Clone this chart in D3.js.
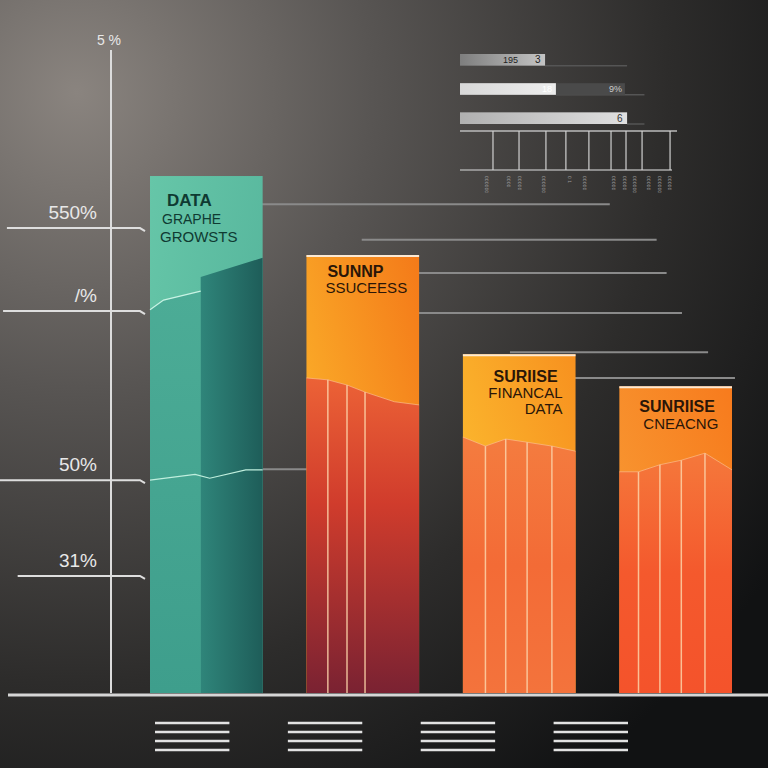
<!DOCTYPE html>
<html><head><meta charset="utf-8">
<script src="https://cdn.jsdelivr.net/npm/d3@7"></script>
<style>body{margin:0;background:#222}svg{display:block}</style>
</head><body>
<svg id="chart" width="768" height="768"></svg>
<script>
// ---------- DATA ----------
const categories = ["DATA GRAPHE GROWSTS", "SUNNP SSUCEESS", "SURIISE FINANCAL DATA", "SUNRIISE CNEACNG"];
const barValues = [80.4, 68.1, 52.7, 47.7];
const barTitleLines = [["DATA", "GRAPHE", "GROWSTS"], ["SUNNP", "SSUCEESS"], ["SURIISE", "FINANCAL", "DATA"], ["SUNRIISE", "CNEACNG"]];
// colour split profile inside each bar: [fraction across bar, value]
const splitProfiles = [
  [[0, 59.6], [0.12, 61.1], [0.45, 62.5]],
  [[0, 49.0], [0.19, 48.7], [0.36, 47.9], [0.52, 46.8], [0.78, 45.3], [1, 44.8]],
  [[0, 39.8], [0.2, 38.4], [0.38, 39.5], [0.57, 39.0], [0.79, 38.4], [1, 37.6]],
  [[0, 34.4], [0.17, 34.4], [0.36, 35.5], [0.55, 36.2], [0.76, 37.3], [1, 34.7]]
];
const barDividers = [[], [0.19, 0.36, 0.52], [0.2, 0.38, 0.57, 0.79], [0.17, 0.36, 0.55, 0.76]];
const tealDarkProfile = [[0.45, 64.7], [1, 67.7]];
const tealLowLine = [[0, 33.1], [0.4, 34.0], [0.53, 33.4], [0.85, 34.7], [1, 34.7]];
const axisTopLabel = "5 %";
const axisTickValues = [72.3, 59.4, 33.1, 18.2];
const axisTickLabels = ["550%", "/%", "50%", "31%"];
const axisTickStarts = [0.9, 0.4, 0, 2.3];          // % of width
const gridValues = [76.0, 70.5, 65.3, 59.1, 53.0, 49.0, 34.8];
const gridStarts = [30, 47.1, 50, 50, 66.4, 70, 30];  // % of width
const gridEnds = [79.4, 85.5, 86.8, 88.8, 92.2, 95.7, 41.1];
const topBarValues = [39.2, 44.2, 77.0];
const topBarExtra = [0, 76.0, 0];
const topBarLabels = [["195", "3"], ["18", "9%"], ["6"]];
const miniTickValues = [15.2, 27.2, 39.6, 48.8, 59.4, 69.6, 76.5, 83.9, 96.8];
const miniLabelValues = [11.5, 21.7, 26.7, 37.8, 49.8, 56.7, 70, 75, 79.7, 86.2, 91.2, 95.8];
const miniLabels = ["000000", "0000", "00000", "000000", "0 1", "00000", "00000", "00000", "000000", "00000", "000000", "00000"];
const legendLineCount = 4;

// ---------- SETUP ----------
const W = 768, H = 768;
const svg = d3.select("#chart");
const defs = svg.append("defs");
const y = d3.scaleLinear().domain([0, 100]).range([693, 50]);
const x = d3.scaleBand().domain(categories).range([150, 732]).paddingInner(0.28).paddingOuter(0);
const xp = d3.scaleLinear().domain([0, 100]).range([0, W]);
const xTop = d3.scaleLinear().domain([0, 100]).range([460, 677]);
const xLeg = d3.scaleBand().domain(categories).range([155, 628]).paddingInner(0.44);

function lin(id, x1, y1, x2, y2, stops) {
  const g = defs.append("linearGradient").attr("id", id)
    .attr("x1", x1).attr("y1", y1).attr("x2", x2).attr("y2", y2);
  stops.forEach(s => g.append("stop").attr("offset", s[0]).attr("stop-color", s[1]));
}
const bg = defs.append("radialGradient").attr("id", "bg").attr("cx", "10%").attr("cy", "12%").attr("r", "110%");
[[0, "#8a847f"], [0.35, "#585553"], [0.7, "#2d2c2b"], [1, "#111213"]].forEach(s => bg.append("stop").attr("offset", s[0]).attr("stop-color", s[1]));

lin("t_up", 0, 0, 1, 1, [[0, "#66c6a8"], [1, "#4fae97"]]);
lin("t_low", 0, 0, 0, 1, [[0, "#4cac96"], [1, "#3e9e8c"]]);
lin("t_dark", 0, 0, 1, 0, [[0, "#2f857a"], [1, "#1e5d59"]]);
lin("o2_up", 0, 1, 1, 0, [[0, "#fdc12f"], [1, "#f47a19"]]);
lin("o2_low", 0, 0, 0, 1, [[0, "#ec6236"], [0.4, "#d03c2c"], [1, "#7a2232"]]);
lin("o3_up", 0, 1, 1, 0, [[0, "#fdc834"], [1, "#f7911f"]]);
lin("o3_low", 0, 0, 0, 1, [[0, "#f47c3f"], [0.5, "#f36b36"], [1, "#f3733c"]]);
lin("o4_up", 0, 1, 1, 0, [[0, "#f8a038"], [1, "#f77b1d"]]);
lin("o4_low", 0, 0, 0, 1, [[0, "#f5783b"], [0.5, "#f4592d"], [1, "#f4532b"]]);
const upFills = ["url(#t_up)", "url(#o2_up)", "url(#o3_up)", "url(#o4_up)"];
const lowFills = ["url(#t_low)", "url(#o2_low)", "url(#o3_low)", "url(#o4_low)"];

svg.append("rect").attr("width", W).attr("height", H).attr("fill", "url(#bg)");

// ---------- TOP-RIGHT WIDGET ----------
lin("tb1", 0, 0, 1, 0, [[0, "#7e7e7e"], [1, "#c4c4c4"]]);
lin("tb2", 0, 0, 1, 0, [[0, "#d8d8d8"], [1, "#ededed"]]);
lin("tb3", 0, 0, 1, 0, [[0, "#b0b0b0"], [1, "#e0e0e0"]]);
const topBarFills = ["url(#tb1)", "url(#tb2)", "url(#tb3)"];
const topBarY = d3.scaleBand().domain(d3.range(3)).range([54, 124]).paddingInner(0.6);
const tw = svg.append("g");
topBarValues.forEach((v, i) => {
  const yy = topBarY(i), h = topBarY.bandwidth();
  tw.append("line").attr("x1", xTop(v)).attr("x2", xTop(i === 0 ? 77 : 85)).attr("y1", yy + h).attr("y2", yy + h)
    .attr("stroke", "#555").attr("stroke-width", 1.5);
  if (topBarExtra[i] > 0) {
    tw.append("rect").attr("x", xTop(v)).attr("y", yy).attr("width", xTop(topBarExtra[i]) - xTop(v)).attr("height", h).attr("fill", "#4a4a4a");
  }
  tw.append("rect").attr("x", xTop(0)).attr("y", yy).attr("width", xTop(v) - xTop(0)).attr("height", h).attr("fill", topBarFills[i]);
  const labs = topBarLabels[i];
  if (i === 0) {
    tw.append("text").attr("x", xTop(v) - 42).attr("y", yy + h - 3).text(labs[0]).attr("fill", "#222").attr("font-size", 9);
    tw.append("text").attr("x", xTop(v) - 10).attr("y", yy + h - 3).text(labs[1]).attr("fill", "#222").attr("font-size", 10);
  } else if (i === 1) {
    tw.append("text").attr("x", xTop(v) - 14).attr("y", yy + h - 3).text(labs[0]).attr("fill", "#fff").attr("font-size", 9);
    tw.append("text").attr("x", xTop(topBarExtra[i]) - 16).attr("y", yy + h - 3).text(labs[1]).attr("fill", "#ccc").attr("font-size", 9);
  } else {
    tw.append("text").attr("x", xTop(v) - 10).attr("y", yy + h - 2).text(labs[0]).attr("fill", "#333").attr("font-size", 10);
  }
});
tw.selectAll("text").attr("font-family", "Liberation Sans, Arial, sans-serif");
// mini chart
tw.append("line").attr("x1", xTop(0)).attr("x2", xTop(100)).attr("y1", 131).attr("y2", 131).attr("stroke", "#bbb").attr("stroke-width", 1.5);
tw.append("line").attr("x1", xTop(0)).attr("x2", xTop(97.7)).attr("y1", 170).attr("y2", 170).attr("stroke", "#aaa").attr("stroke-width", 1.5);
tw.selectAll(".mt").data(miniTickValues).join("line")
  .attr("x1", d => xTop(d)).attr("x2", d => xTop(d)).attr("y1", 131).attr("y2", 170)
  .attr("stroke", "#d0d0d0").attr("stroke-width", 1.2);
tw.selectAll(".ml").data(miniLabelValues).join("text")
  .attr("transform", d => `translate(${xTop(d)},176) rotate(90)`)
  .text((d, i) => miniLabels[i]).attr("fill", "#9a9a9a").attr("font-size", 4.5)
  .attr("font-family", "DejaVu Sans, sans-serif");

// ---------- GRID LINES ----------
svg.append("g").selectAll("line").data(gridValues).join("line")
  .attr("x1", (d, i) => xp(gridStarts[i])).attr("x2", (d, i) => xp(gridEnds[i]))
  .attr("y1", d => y(d)).attr("y2", d => y(d))
  .attr("stroke", "#8a8a8a").attr("stroke-width", 2);

// ---------- BARS ----------
const bars = svg.append("g");
categories.forEach((c, i) => {
  const x0 = x(c), bw = x.bandwidth();
  const fx = d3.scaleLinear().domain([0, 1]).range([x0, x0 + bw]);
  const g = bars.append("g");
  g.append("rect").attr("x", x0).attr("y", y(barValues[i])).attr("width", bw).attr("height", y(0) - y(barValues[i]))
    .attr("fill", upFills[i]);
  const prof = splitProfiles[i];
  const area = d3.area().x(d => fx(d[0])).y0(y(0)).y1(d => y(d[1]));
  g.append("path").datum(prof).attr("d", area).attr("fill", lowFills[i]);
  if (i === 0) {
    g.append("path").datum(tealDarkProfile).attr("d", area).attr("fill", "url(#t_dark)");
    g.append("path").datum(prof).attr("d", d3.line().x(d => fx(d[0])).y(d => y(d[1])))
      .attr("fill", "none").attr("stroke", "#c8f3e4").attr("stroke-width", 1.2);
    g.append("path").datum(tealLowLine).attr("d", d3.line().x(d => fx(d[0])).y(d => y(d[1])))
      .attr("fill", "none").attr("stroke", "#bfeedd").attr("stroke-width", 1.2);
  } else {
    const pInterp = d3.scaleLinear().domain(prof.map(d => d[0])).range(prof.map(d => d[1]));
    g.selectAll(".dv").data(barDividers[i]).join("line")
      .attr("x1", d => fx(d)).attr("x2", d => fx(d))
      .attr("y1", d => y(pInterp(d))).attr("y2", y(0))
      .attr("stroke", "#fbd2a8").attr("stroke-opacity", 0.85).attr("stroke-width", 1.5);
    g.append("line").attr("x1", x0).attr("x2", x0 + bw).attr("y1", y(barValues[i]) + 1).attr("y2", y(barValues[i]) + 1)
      .attr("stroke", "#fbe9d4").attr("stroke-width", 2);
    g.append("path").datum(prof).attr("d", d3.line().x(d => fx(d[0])).y(d => y(d[1])))
      .attr("fill", "none").attr("stroke", "#fbc79a").attr("stroke-opacity", 0.6).attr("stroke-width", 1);
  }
});

// bar titles
const titleFmt = [
  {anchor: "start", xs: [17, 12, 10], dy: [30, 48, 66], sizes: [17, 14, 15], col: "#0f3a32"},
  {anchor: "start", xs: [21, 19], dy: [22, 38], sizes: [16, 15], col: "#2a1608"},
  {anchor: "end", xs: [-18, -13, -13], dy: [28, 44, 60], sizes: [16, 15, 15], col: "#2a1608"},
  {anchor: "start", xs: [20, 24], dy: [26, 43], sizes: [16, 15], col: "#2a1608"}
];
categories.forEach((c, i) => {
  const f = titleFmt[i];
  const baseX = f.anchor === "end" ? x(c) + x.bandwidth() : x(c);
  barTitleLines[i].forEach((t, j) => {
    bars.append("text").attr("x", baseX + f.xs[j]).attr("y", y(barValues[i]) + f.dy[j])
      .attr("text-anchor", f.anchor).text(t)
      .attr("font-family", "Liberation Sans, Arial, sans-serif")
      .attr("font-weight", j === 0 ? "bold" : "normal")
      .attr("font-size", f.sizes[j]).attr("fill", f.col);
  });
});

// ---------- AXIS ----------
const ax = svg.append("g");
ax.append("line").attr("x1", 111).attr("x2", 111).attr("y1", y(100)).attr("y2", y(0))
  .attr("stroke", "#dcdcdc").attr("stroke-width", 2);
ax.append("text").attr("x", 109).attr("y", y(100) - 5).attr("text-anchor", "middle").text(axisTopLabel)
  .attr("fill", "#e8e8e8").attr("font-size", 14).attr("font-family", "Liberation Sans, Arial, sans-serif");
axisTickValues.forEach((v, i) => {
  const yy = y(v);
  ax.append("path").attr("d", `M${xp(axisTickStarts[i])},${yy}L${x(categories[0]) - 10},${yy}l5,3`)
    .attr("fill", "none").attr("stroke", "#dedede").attr("stroke-width", 2);
  ax.append("text").attr("x", 97).attr("y", yy - 9).attr("text-anchor", "end").text(axisTickLabels[i])
    .attr("fill", "#e8e8e8").attr("font-size", 19).attr("font-family", "Liberation Sans, Arial, sans-serif");
});

// baseline
svg.append("line").attr("x1", 8).attr("x2", W).attr("y1", y(0) + 2).attr("y2", y(0) + 2)
  .attr("stroke", "#d6d6d6").attr("stroke-width", 3);

// ---------- LEGEND PLACEHOLDER LINES ----------
const legY = d3.scaleLinear().domain([0, legendLineCount - 1]).range([723, 750]);
categories.forEach(c => {
  svg.append("g").selectAll("line").data(d3.range(legendLineCount)).join("line")
    .attr("x1", xLeg(c)).attr("x2", xLeg(c) + xLeg.bandwidth())
    .attr("y1", d => legY(d)).attr("y2", d => legY(d))
    .attr("stroke", "#e2e2e2").attr("stroke-width", 2.5);
});
</script>
</body></html>
